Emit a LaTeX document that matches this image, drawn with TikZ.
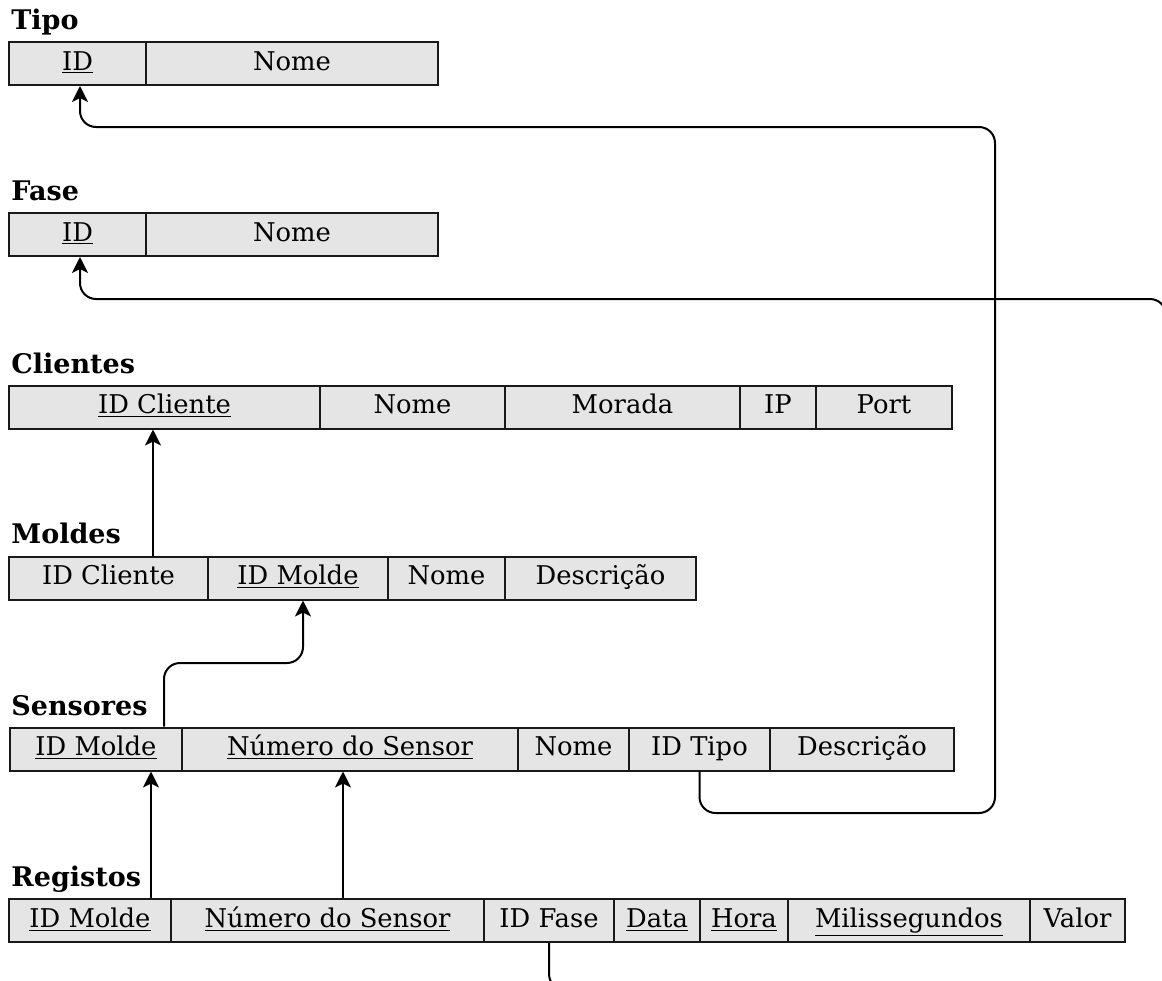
\documentclass[tikz,border=0pt]{standalone}
\usepackage{fontspec}
\setmainfont{DejaVu Serif}
\usetikzlibrary{arrows.meta}
\begin{document}
\begin{tikzpicture}[x=0.5pt,y=-0.5pt,
    cell/.style={draw=black!90, line width=1pt, fill=gray!20, minimum height=21.5pt,
      inner sep=0pt, text height=9.5pt, text depth=3pt, font=\fontsize{12.9}{15}\selectfont},
    title/.style={anchor=base west, inner sep=0pt, font=\fontsize{13.5}{16}\selectfont\bfseries},
    fk/.style={line width=1pt, rounded corners=8pt, -{Stealth[length=8pt,width=8pt,inset=2pt]}}]
  \useasboundingbox (0,0) rectangle (1162,980);
  \clip (0,0) rectangle (1162,980);
  % Tipo
  \node[title] (tipo) at (11,29) {Tipo};
  \foreach \l/\r/\t [count=\i] in {9/146/\underline{ID},146/438/Nome}
    \node[cell, minimum width={(\r-\l)*0.5pt}] (tipo\i) at ({(\l+\r)/2},63.5) {\t};
  % Fase
  \node[title] (fase) at (11,200) {Fase};
  \foreach \l/\r/\t [count=\i] in {9/146/\underline{ID},146/438/Nome}
    \node[cell, minimum width={(\r-\l)*0.5pt}] (fase\i) at ({(\l+\r)/2},234.5) {\t};
  % Clientes
  \node[title] (cli) at (11,373) {Clientes};
  \foreach \l/\r/\t [count=\i] in {9/320/\underline{ID Cliente},320/505/Nome,505/740/Morada,
      740/816/IP,816/952/Port}
    \node[cell, minimum width={(\r-\l)*0.5pt}] (cli\i) at ({(\l+\r)/2},407) {\t};
  % Moldes
  \node[title] (mol) at (11,543) {Moldes};
  \foreach \l/\r/\t [count=\i] in {9/208/ID Cliente,208/388/\underline{ID Molde},388/505/Nome,
      505/696/Descrição}
    \node[cell, minimum width={(\r-\l)*0.5pt}] (mol\i) at ({(\l+\r)/2},578) {\t};
  % Sensores
  \node[title] (sen) at (11,715) {Sensores};
  \foreach \l/\r/\t [count=\i] in {10/182/\underline{ID Molde},182/518/\underline{Número do Sensor},
      518/629/Nome,629/770/ID Tipo,770/954/Descrição}
    \node[cell, minimum width={(\r-\l)*0.5pt}] (sen\i) at ({(\l+\r)/2},749) {\t};
  % Registos
  \node[title] (reg) at (11,886) {Registos};
  \foreach \l/\r/\t [count=\i] in {9/171/\underline{ID Molde},171/484/\underline{Número do Sensor},
      484/614/ID Fase,614/700/\underline{Data},700/788/\underline{Hora},
      788/1030/\underline{Milissegundos},1030/1125/Valor}
    \node[cell, minimum width={(\r-\l)*0.5pt}] (reg\i) at ({(\l+\r)/2},920.5) {\t};
  % chaves estrangeiras
  \draw[fk] (153,0 |- mol1.north) -- (153,0 |- cli1.south);
  \draw[fk] (164,0 |- sen1.north) |- (303,663) -- (303,0 |- mol2.south);
  \draw[fk] (151,0 |- reg1.north) -- (151,0 |- sen1.south);
  \draw[fk] (343,0 |- reg2.north) -- (343,0 |- sen2.south);
  \draw[fk] (sen4.south) |- (995,813) |- (80,127) -- (80,0 |- tipo1.south);
  \draw[fk] (reg3.south) |- (1166,990) |- (80,299) -- (80,0 |- fase1.south);
\end{tikzpicture}
\end{document}
